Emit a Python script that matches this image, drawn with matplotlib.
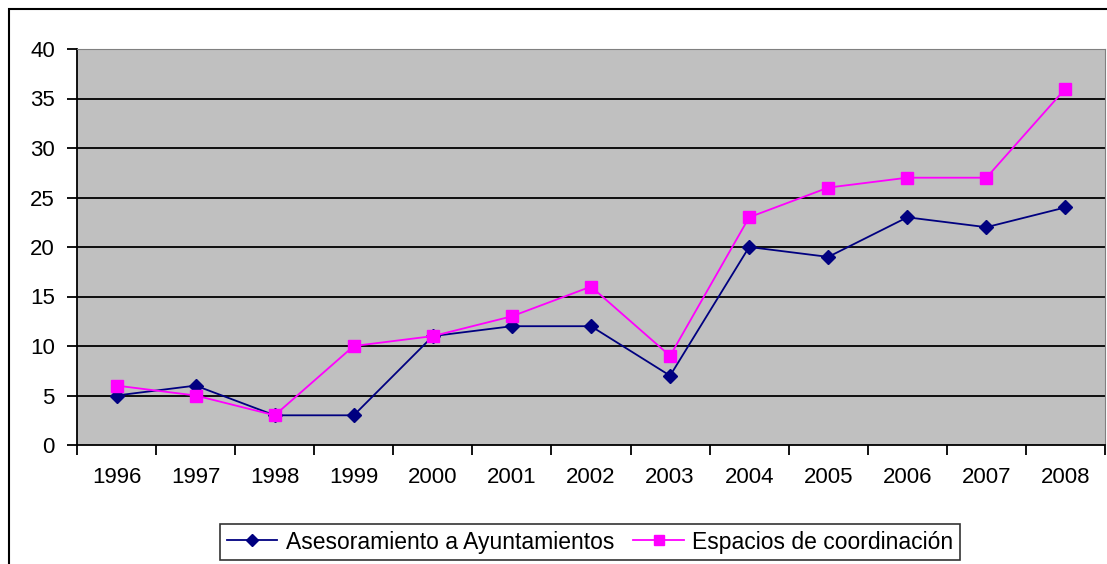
import matplotlib
matplotlib.use("Agg")
from matplotlib import pyplot as plt
from matplotlib.patches import Rectangle
import numpy as np

plt.rcParams['font.family'] = ['Liberation Sans', 'DejaVu Sans']

# Datos
years = ["1996", "1997", "1998", "1999", "2000", "2001", "2002",
         "2003", "2004", "2005", "2006", "2007", "2008"]
asesoramiento = [5, 6, 3, 3, 11, 12, 12, 7, 20, 19, 23, 22, 24]
espacios = [6, 5, 3, 10, 11, 13, 16, 9, 23, 26, 27, 27, 36]

W, H = 1107, 564
fig = plt.figure(figsize=(W / 100, H / 100), dpi=100)

# Marco exterior del grafico (se sale por la derecha y abajo)
fig.patches.append(Rectangle((9 / W, -0.1), 1.2, 1 - 9 / H + 0.1,
                             transform=fig.transFigure, fill=False,
                             edgecolor="black", linewidth=1.5))

left, right, top, bottom = 77, 1105, 49, 445
ax = fig.add_axes([left / W, 1 - bottom / H, (right - left) / W, (bottom - top) / H])
ax.set_facecolor("#C0C0C0")

x = np.arange(len(years))
ax.plot(x, asesoramiento, color="#000080", lw=1.3, marker="D", ms=7,
        label="Asesoramiento a Ayuntamientos", zorder=3)
ax.plot(x, espacios, color="#FF00FF", lw=1.3, marker="s", ms=8,
        label="Espacios de coordinación", zorder=3)

ax.set_xlim(-0.5, len(years) - 0.5)
ax.set_ylim(0, 40)
ax.set_yticks(range(0, 41, 5))
for yv in range(5, 40, 5):
    ax.axhline(yv, color="black", lw=1.3, zorder=1)

ax.set_xticks(np.arange(-0.5, len(years), 1))
ax.set_xticklabels([])
ax.set_xticks(x, minor=True)
ax.set_xticklabels(years, minor=True)
ax.tick_params(axis="x", which="major", direction="out", length=7, width=1.3)
ax.tick_params(axis="x", which="minor", length=0, pad=16, labelsize=16)
ax.tick_params(axis="y", direction="out", length=7, width=1.3, labelsize=16, pad=9)

ax.spines["left"].set_color("black")
ax.spines["left"].set_linewidth(1.3)
ax.spines["bottom"].set_color("black")
ax.spines["bottom"].set_linewidth(1.3)
ax.spines["top"].set_color("#808080")
ax.spines["right"].set_color("#808080")

leg = fig.legend(loc="center", bbox_to_anchor=(590 / W, 1 - 542 / H),
                 ncol=2, frameon=True, fancybox=False, fontsize=16.5,
                 edgecolor="black", handlelength=2.2, columnspacing=0.85,
                 handletextpad=0.35, borderpad=0.3, markerscale=0.85)
leg.get_frame().set_linewidth(1.2)

fig.savefig("out.png", dpi=100)
